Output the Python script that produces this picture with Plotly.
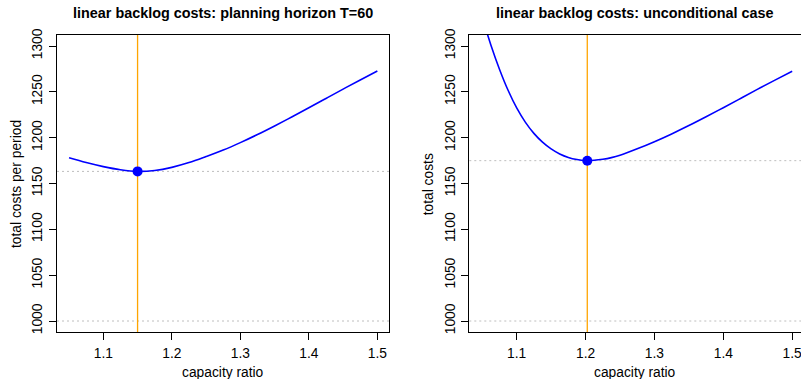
import plotly.graph_objects as go

# Total costs per period over the capacity ratio, planning horizon T=60
ratio_T60 = [1.05, 1.075, 1.10, 1.125, 1.15, 1.175, 1.20, 1.225, 1.25, 1.275,
             1.30, 1.325, 1.35, 1.375, 1.40, 1.425, 1.45, 1.475, 1.50]
cost_T60 = [1178.0, 1172.8, 1168.4, 1165.0, 1163.2, 1164.2, 1167.6, 1172.8, 1179.4, 1186.5,
            1194.6, 1203.4, 1212.8, 1222.6, 1232.6, 1242.8, 1253.0, 1263.0, 1272.8]

# Total costs over the capacity ratio, unconditional case
ratio_unc = [1.05, 1.0625, 1.075, 1.0875, 1.10, 1.1125, 1.125, 1.1375, 1.15, 1.1625,
             1.175, 1.1875, 1.20, 1.2125, 1.225, 1.2375, 1.25, 1.275, 1.30, 1.325,
             1.35, 1.375, 1.40, 1.425, 1.45, 1.475, 1.50]
cost_unc = [1331.2, 1301.2, 1274.7, 1251.7, 1232.5, 1217.0, 1204.7, 1195.1, 1187.7, 1182.2,
            1178.4, 1176.1, 1175.0, 1175.3, 1176.4, 1178.2, 1180.8, 1187.8, 1195.6, 1204.1,
            1213.2, 1222.8, 1232.7, 1242.8, 1252.9, 1262.8, 1272.4]

# Optimal capacity ratio and the matching minimum cost for each case
opt_T60 = (1.15, 1163.2)
opt_unc = (1.2025, 1174.9)

baseline = 1000
y_ticks = [1000, 1050, 1100, 1150, 1200, 1250, 1300]
x_ticks = [1.1, 1.2, 1.3, 1.4, 1.5]

titles = ["linear backlog costs: planning horizon T=60",
          "linear backlog costs: unconditional case"]
y_titles = ["total costs per period", "total costs"]
x_title = "capacity ratio"

W, H = 801, 379
FONT = "Liberation Sans, Arial, sans-serif"
BLUE, ORANGE, GREY = "#0000FF", "#FFA500", "#BEBEBE"

# Panel boxes in pixels: (left, right), shared top/bottom
panels_px = [(57.0, 389.0), (469.3, 801.0)]
top_px, bot_px = 35.0, 332.0
x_ranges = [[1.0324, 1.517], [1.0312, 1.5128]]
y_range = [988, 1312]

fig = go.Figure()

series = [(ratio_T60, cost_T60, opt_T60), (ratio_unc, cost_unc, opt_unc)]
for i, (xs, ys, opt) in enumerate(series):
    sx = "" if i == 0 else str(i + 1)
    xa, ya = "x" + sx, "y" + sx
    fig.add_trace(go.Scatter(x=xs, y=ys, mode="lines", xaxis=xa, yaxis=ya,
                             line=dict(color=BLUE, width=1.6, shape="spline", smoothing=1.0),
                             showlegend=False, hoverinfo="skip"))
    # reference lines: baseline, minimum cost, optimal ratio
    for yv in (baseline, opt[1]):
        fig.add_shape(type="line", xref=xa + " domain", yref=ya, x0=0, x1=1, y0=yv, y1=yv,
                      line=dict(color=GREY, width=1, dash="2px,3px"), layer="below")
    fig.add_shape(type="line", xref=xa, yref=ya + " domain", x0=opt[0], x1=opt[0], y0=0, y1=1,
                  line=dict(color=ORANGE, width=1.3), layer="below")
    fig.add_trace(go.Scatter(x=[opt[0]], y=[opt[1]], mode="markers", xaxis=xa, yaxis=ya,
                             marker=dict(color=BLUE, size=10, line=dict(width=0)),
                             showlegend=False, hoverinfo="skip"))

    l, r = panels_px[i]
    dom_x = [l / W, min(r / W, 1.0)]
    dom_y = [(H - bot_px) / H, (H - top_px) / H]
    axis_common = dict(showline=True, linecolor="black", linewidth=1, mirror=True,
                       ticks="outside", ticklen=7, tickcolor="black", tickwidth=1,
                       showgrid=False, zeroline=False, automargin=False,
                       ticklabeloverflow="allow",
                       tickfont=dict(family=FONT, size=13.8, color="black"))
    fig.update_layout(**{
        "xaxis" + sx: dict(domain=dom_x, range=x_ranges[i], tickvals=x_ticks,
                           ticktext=[f"{v:.1f}" for v in x_ticks], anchor=ya,
                           ticklabelstandoff=1, **axis_common),
        "yaxis" + sx: dict(domain=dom_y, range=y_range, tickvals=y_ticks, anchor=xa,
                           tickangle=-90, ticklabelstandoff=1, **axis_common),
    })

    cx = (l + r) / 2
    # panel title
    fig.add_annotation(text="<b>" + titles[i] + "</b>", xref="paper", yref="paper",
                       x=cx / W, y=1 - 13 / H, showarrow=False,
                       font=dict(family=FONT, size=14.4, color="black"),
                       xanchor="center", yanchor="middle")
    # axis titles
    fig.add_annotation(text=x_title, xref="paper", yref="paper",
                       x=cx / W, y=1 - 372 / H, showarrow=False,
                       font=dict(family=FONT, size=13.8, color="black"),
                       xanchor="center", yanchor="middle")
    fig.add_annotation(text=y_titles[i], xref="paper", yref="paper",
                       x=(l - 40) / W, y=1 - 184 / H, showarrow=False, textangle=-90,
                       font=dict(family=FONT, size=13.8, color="black"),
                       xanchor="center", yanchor="middle")

fig.update_layout(width=W, height=H, margin=dict(l=0, r=0, t=0, b=0),
                  paper_bgcolor="white", plot_bgcolor="white",
                  font=dict(family=FONT, color="black"))

fig.write_html("out.html")
